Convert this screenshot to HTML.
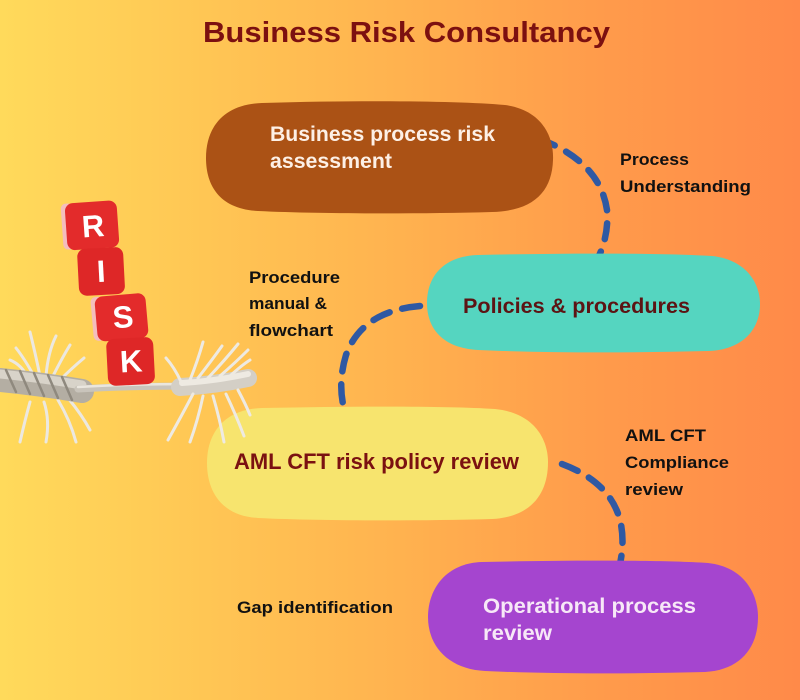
<!DOCTYPE html>
<html>
<head>
<meta charset="utf-8">
<style>
  html,body{margin:0;padding:0;}
  body{width:800px;height:700px;overflow:hidden;
    background:linear-gradient(90deg,#FFDA5B 0%,#FFC955 22%,#FFB24F 50%,#FF9B4B 75%,#FF8A49 100%);}
  svg{display:block;}
  text{font-family:"Liberation Sans",Arial,sans-serif;font-weight:bold;}
</style>
</head>
<body>
<svg width="800" height="700" viewBox="0 0 800 700" xmlns="http://www.w3.org/2000/svg">
  <!-- Title -->
  <text x="203" y="42" font-size="29" fill="#7C1010" textLength="407" lengthAdjust="spacingAndGlyphs">Business Risk Consultancy</text>

  <!-- Connectors (drawn under blobs) -->
  <g fill="none" stroke="#2F59A3" stroke-width="6.5" stroke-linecap="round">
    <path d="M540,139 Q600,162 607,210 Q609,235 598,258" stroke-dasharray="16 13"/>
    <path d="M420,306 Q362,311 346,355 Q337,385 345,412" stroke-dasharray="18 13"/>
    <path d="M562,464 Q610,482 620,520 Q625,540 620,564" stroke-dasharray="17 13"/>
  </g>

  <!-- Blobs -->
  <path d="M262,103 C360,100 460,101 505,105 C543,110 554,138 553,160 C552,192 533,211 492,212 C420,214 320,214 258,211 C220,209 206,186 206,158 C206,126 225,104 262,103 Z" fill="#AB5215"/>
  <path d="M478,255 C570,253 660,253 712,256 C748,260 760,285 760,304 C760,330 742,350 708,351 C630,353 550,353 478,350 C442,348 427,328 427,303 C427,275 445,256 478,255 Z" fill="#55D5C0"/>
  <path d="M262,408 C360,406 450,406 495,409 C535,413 548,440 548,462 C548,495 530,517 492,519 C420,521 320,521 258,518 C222,516 207,492 207,463 C207,432 225,409 262,408 Z" fill="#F7E46E"/>
  <path d="M482,562 C570,560 660,560 708,563 C745,567 758,595 758,617 C758,648 740,670 705,672 C630,674 550,674 485,671 C448,669 428,646 428,617 C428,588 447,563 482,562 Z" fill="#A545CF"/>

  <!-- Blob text -->
  <text x="270" y="141" font-size="21" fill="#FDF0E6" textLength="225" lengthAdjust="spacingAndGlyphs">Business process risk</text>
  <text x="270" y="168" font-size="21" fill="#FDF0E6" textLength="122" lengthAdjust="spacingAndGlyphs">assessment</text>
  <text x="463" y="313" font-size="21" fill="#5C1414" textLength="227" lengthAdjust="spacingAndGlyphs">Policies &amp; procedures</text>
  <text x="234" y="469" font-size="22" fill="#7B1111" textLength="285" lengthAdjust="spacingAndGlyphs">AML CFT risk policy review</text>
  <text x="483" y="613" font-size="21" fill="#F7E8F7" textLength="213" lengthAdjust="spacingAndGlyphs">Operational process</text>
  <text x="483" y="640" font-size="21" fill="#F7E8F7" textLength="69" lengthAdjust="spacingAndGlyphs">review</text>

  <!-- Connector labels -->
  <g font-size="17" fill="#111">
    <text x="620" y="165" textLength="69" lengthAdjust="spacingAndGlyphs">Process</text>
    <text x="620" y="192" textLength="131" lengthAdjust="spacingAndGlyphs">Understanding</text>
    <text x="249" y="283" textLength="91" lengthAdjust="spacingAndGlyphs">Procedure</text>
    <text x="249" y="309" textLength="78" lengthAdjust="spacingAndGlyphs">manual &amp;</text>
    <text x="249" y="336" textLength="84" lengthAdjust="spacingAndGlyphs">flowchart</text>
    <text x="625" y="441" textLength="81" lengthAdjust="spacingAndGlyphs">AML CFT</text>
    <text x="625" y="468" textLength="104" lengthAdjust="spacingAndGlyphs">Compliance</text>
    <text x="625" y="495" textLength="58" lengthAdjust="spacingAndGlyphs">review</text>
    <text x="237" y="613" textLength="156" lengthAdjust="spacingAndGlyphs">Gap identification</text>
  </g>

  <!-- Rope -->
  <g stroke-linecap="round" fill="none">
    <!-- left frayed fibers -->
    <g stroke="#ECE8E0" stroke-width="3">
      <path d="M40,376 Q35,352 30,332"/>
      <path d="M46,376 Q48,352 56,336"/>
      <path d="M52,378 Q62,358 70,345"/>
      <path d="M34,376 Q24,358 16,348"/>
      <path d="M60,380 Q72,368 84,358"/>
      <path d="M28,378 Q22,365 10,360"/>
      <path d="M30,402 Q25,420 20,442"/>
      <path d="M44,402 Q50,420 46,442"/>
      <path d="M58,400 Q70,420 76,442"/>
      <path d="M68,398 Q82,415 90,430"/>
    </g>
    <!-- left braided thick part -->
    <path d="M0,380 Q40,384 82,391" stroke="#B4AEA3" stroke-width="24"/>
    <path d="M0,374 Q40,378 82,385" stroke="#D8D3C9" stroke-width="9"/>
    <g stroke="#8F897E" stroke-width="2.5">
      <path d="M6,370 L16,392"/><path d="M20,371 L30,394"/><path d="M34,373 L44,396"/><path d="M48,375 L58,398"/><path d="M62,377 L72,400"/>
    </g>
    <!-- thin middle strand -->
    <path d="M78,389 Q130,386 195,386" stroke="#C9C4BB" stroke-width="7"/>
    <path d="M78,387 Q130,384 195,384" stroke="#EAE6DE" stroke-width="2.5"/>
    <!-- right frayed part -->
    <path d="M180,387 Q215,385 248,378" stroke="#D4CFC6" stroke-width="18"/>
    <path d="M182,383 Q215,381 248,374" stroke="#EEEAE2" stroke-width="6"/>
    <g stroke="#EEEAE2" stroke-width="3">
      <path d="M190,380 Q198,360 203,342"/>
      <path d="M198,378 Q212,360 222,346"/>
      <path d="M208,378 Q225,360 238,344"/>
      <path d="M220,376 Q236,362 248,350"/>
      <path d="M230,376 Q242,365 250,360"/>
      <path d="M193,394 Q182,415 168,440"/>
      <path d="M203,396 Q198,420 190,442"/>
      <path d="M213,396 Q220,420 224,442"/>
      <path d="M226,394 Q236,415 244,436"/>
      <path d="M238,390 Q246,405 250,415"/>
      <path d="M182,384 Q175,368 166,358"/>
    </g>
  </g>

  <!-- Dice -->
  <g font-size="31" text-anchor="middle" fill="#fff">
    <g transform="rotate(-4 90 225)">
      <rect x="62" y="202" width="12" height="46" rx="5" fill="#F4BDBD"/>
      <rect x="66" y="202" width="52" height="47" rx="8" fill="#E32B2B"/>
      <text x="93" y="237">R</text>
    </g>
    <g transform="rotate(-3 100 270)">
      <rect x="78" y="248" width="46" height="47" rx="8" fill="#DE2727"/>
      <text x="101" y="282">I</text>
    </g>
    <g transform="rotate(-5 119 317)">
      <rect x="92" y="295" width="12" height="44" rx="5" fill="#F4BDBD"/>
      <rect x="96" y="295" width="51" height="45" rx="8" fill="#E32B2B"/>
      <text x="123" y="328">S</text>
    </g>
    <g transform="rotate(-3 130 360)">
      <rect x="107" y="338" width="47" height="47" rx="8" fill="#DE2727"/>
      <text x="131" y="372">K</text>
    </g>
  </g>
</svg>
</body>
</html>
